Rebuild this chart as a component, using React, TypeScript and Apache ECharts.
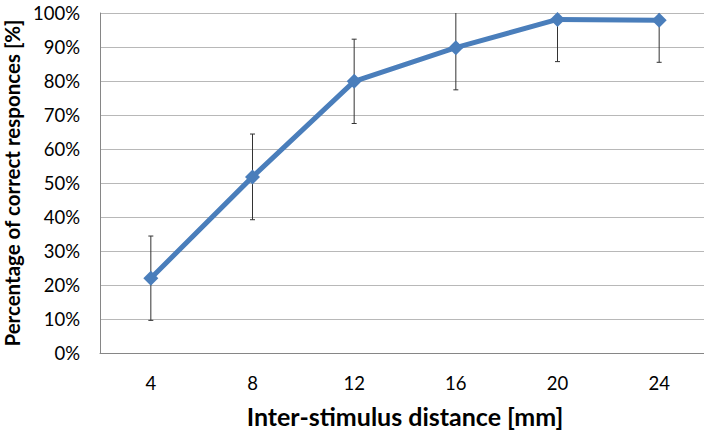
import React, { useEffect, useRef } from "react";
import * as echarts from "echarts";

const categories = ["4", "8", "12", "16", "20", "24"];
const values = [22, 51.8, 79.9, 89.8, 98.1, 97.9];
const errors = [12.4, 12.6, 12.4, 12.4, 12.4, 12.4];
const yTicks = [0, 10, 20, 30, 40, 50, 60, 70, 80, 90, 100];

export default function App() {
  const ref = useRef<HTMLDivElement>(null);
  useEffect(() => {
    const chart = echarts.init(ref.current!, null, { renderer: "svg" });
    const errData = values.map((v, i) => [i, v - errors[i], v + errors[i]]);
    chart.setOption({
      animation: false,
      backgroundColor: "#ffffff",
      grid: { left: 100, top: 13, right: -6, bottom: 78, outerBoundsMode: "none", containLabel: false },
      xAxis: {
        type: "category",
        data: categories,
        boundaryGap: true,
        axisLine: { show: true, lineStyle: { color: "#868686", width: 1 } },
        axisTick: { show: false },
        axisLabel: { color: "#000", fontFamily: "Lato", fontSize: 18.5, margin: 20 },
        name: "Inter-stimulus distance [mm]",
        nameLocation: "middle",
        nameGap: 50,
        nameTextStyle: { color: "#000", fontFamily: "Lato", fontSize: 25, fontWeight: "bold", lineHeight: 26 },
      },
      yAxis: {
        type: "value",
        min: 0,
        max: 100,
        interval: 10,
        axisLine: { show: true, lineStyle: { color: "#868686", width: 1 } },
        axisTick: { show: false },
        axisLabel: {
          color: "#000",
          fontFamily: "Lato",
          fontSize: 18.5,
          margin: 20,
          formatter: (v: number) => (yTicks.includes(v) ? v + "%" : ""),
        },
        splitLine: { show: true, lineStyle: { color: "#b8b8b8", width: 1 } },
        name: "Percentage of correct responces [%]",
        nameLocation: "middle",
        nameGap: 76,
        nameTextStyle: { color: "#000", fontFamily: "Lato", fontSize: 20.5, fontWeight: "bold" },
      },
      series: [
        {
          type: "custom",
          clip: true,
          z: 1,
          data: errData,
          renderItem: (params: any, api: any) => {
            const x = api.coord([api.value(0), 0])[0];
            const lo = api.coord([api.value(0), api.value(1)])[1];
            const hi = api.coord([api.value(0), api.value(2)])[1];
            const cap = 2.5;
            const style = { stroke: "#333333", lineWidth: 1 };
            return {
              type: "group",
              children: [
                { type: "line", shape: { x1: x, y1: lo, x2: x, y2: hi }, style },
                { type: "line", shape: { x1: x - cap, y1: lo, x2: x + cap, y2: lo }, style },
                { type: "line", shape: { x1: x - cap, y1: hi, x2: x + cap, y2: hi }, style },
              ],
            };
          },
        },
        {
          type: "line",
          data: values,
          z: 3,
          symbol: "diamond",
          symbolSize: 15,
          lineStyle: { color: "#4a7ebb", width: 5 },
          itemStyle: { color: "#4a7ebb" },
        },
      ],
    });
    return () => chart.dispose();
  }, []);
  return (
    <div
      ref={ref}
      style={{ position: "fixed", left: 0, top: 0, width: 704, height: 431 }}
    />
  );
}
